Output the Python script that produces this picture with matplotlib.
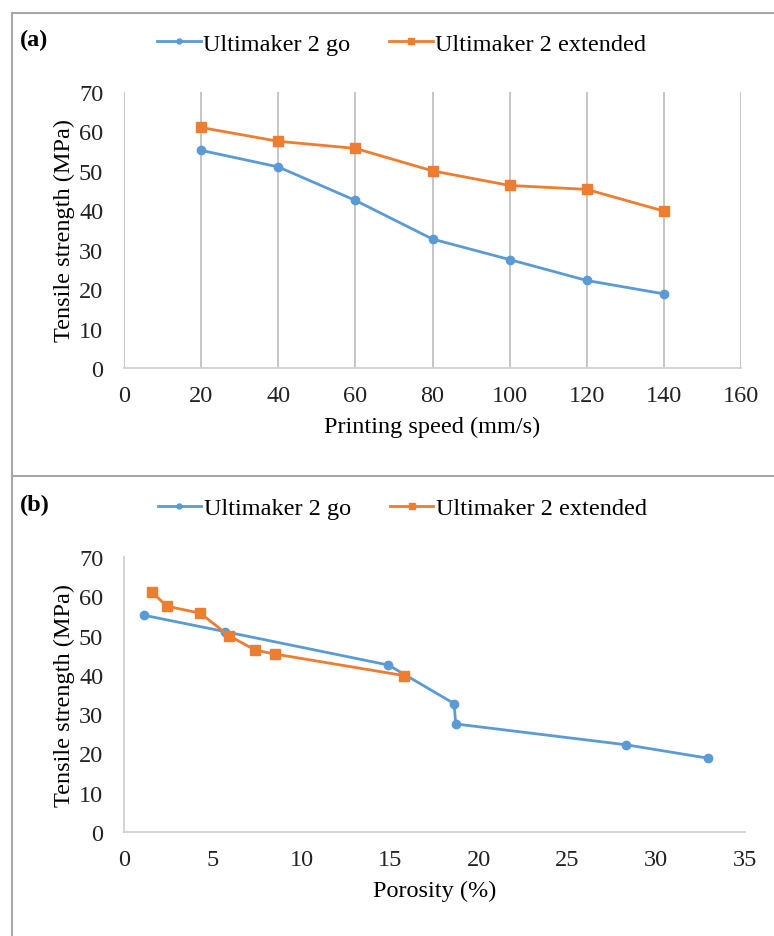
import matplotlib.pyplot as plt
from matplotlib.lines import Line2D

plt.rcParams['font.family'] = ['Liberation Serif', 'DejaVu Serif']

# (a) tensile strength vs printing speed
speed = [20, 40, 60, 80, 100, 120, 140]
go_a = [55.2, 51.0, 42.5, 32.7, 27.5, 22.2, 18.8]
ext_a = [61.0, 57.5, 55.7, 50.0, 46.3, 45.3, 39.8]

# (b) tensile strength vs porosity
por_go = [1.1, 5.7, 14.9, 18.6, 18.7, 28.3, 32.9]
por_ext = [1.6, 2.4, 4.3, 5.9, 7.4, 8.5, 15.8]
go_b = go_a
ext_b = ext_a

blue = '#5B9BD5'
orange = '#ED7D31'
fs = 17.5

fig = plt.figure(figsize=(7.74, 9.37), dpi=100)

# outer frame lines
fig.add_artist(Line2D([12/774, 1], [1-14/937, 1-14/937], color='#a6a6a6', lw=1.5))
fig.add_artist(Line2D([12/774, 12/774], [0, 1-14/937], color='#a6a6a6', lw=1.5))
fig.add_artist(Line2D([12/774, 1], [1-477/937, 1-477/937], color='#a6a6a6', lw=1.5))


def style(ax):
    for s in ['top', 'right']:
        ax.spines[s].set_visible(False)
    for s in ['left', 'bottom']:
        ax.spines[s].set_color('#d0d0d0')
        ax.spines[s].set_linewidth(1.3)
    ax.tick_params(length=0, labelsize=fs, colors='#222222')
    ax.tick_params(axis='y', pad=15)
    ax.tick_params(axis='x', pad=12)
    ax.set_ylim(0, 70)
    ax.set_yticks(range(0, 71, 10))
    ax.set_ylabel('Tensile strength (MPa)', fontsize=fs, labelpad=3)


# panel a
ax1 = fig.add_axes([124/774, 1-369/937, 617/774, 276/937])
style(ax1)
ax1.set_xlim(0, 160)
ax1.set_xticks(range(0, 161, 20))
ax1.grid(axis='x', color='#c0c0c0', lw=1.3)
ax1.spines['left'].set_visible(False)
ax1.set_axisbelow(True)
ax1.plot(speed, go_a, '-o', color=blue, lw=2, ms=6, label='Ultimaker 2 go')
ax1.plot(speed, ext_a, '-s', color=orange, lw=2, ms=7, label='Ultimaker 2 extended')
ax1.set_xlabel('Printing speed (mm/s)', fontsize=fs, labelpad=7)
ax1.legend(loc='center', bbox_to_anchor=(0.45, 1.174), ncol=2, frameon=False,
           fontsize=fs, handlelength=1.8, handletextpad=0.1, columnspacing=1.6,
           markerscale=0.6)

# panel b
ax2 = fig.add_axes([124/774, 1-833/937, 621/774, 275/937])
style(ax2)
ax2.set_xlim(0, 35)
ax2.set_xticks(range(0, 36, 5))
ax2.plot(por_go, go_b, '-o', color=blue, lw=2, ms=6, label='Ultimaker 2 go')
ax2.plot(por_ext, ext_b, '-s', color=orange, lw=2, ms=7, label='Ultimaker 2 extended')
ax2.set_xlabel('Porosity (%)', fontsize=fs, labelpad=7)
ax2.legend(loc='center', bbox_to_anchor=(0.448, 1.178), ncol=2, frameon=False,
           fontsize=fs, handlelength=1.8, handletextpad=0.1, columnspacing=1.6,
           markerscale=0.6)

fig.text(20/774, 1-40/937, '(a)', fontsize=fs, fontweight='bold', va='center')
fig.text(20/774, 1-505/937, '(b)', fontsize=fs, fontweight='bold', va='center')

fig.savefig('out.png', dpi=100)
